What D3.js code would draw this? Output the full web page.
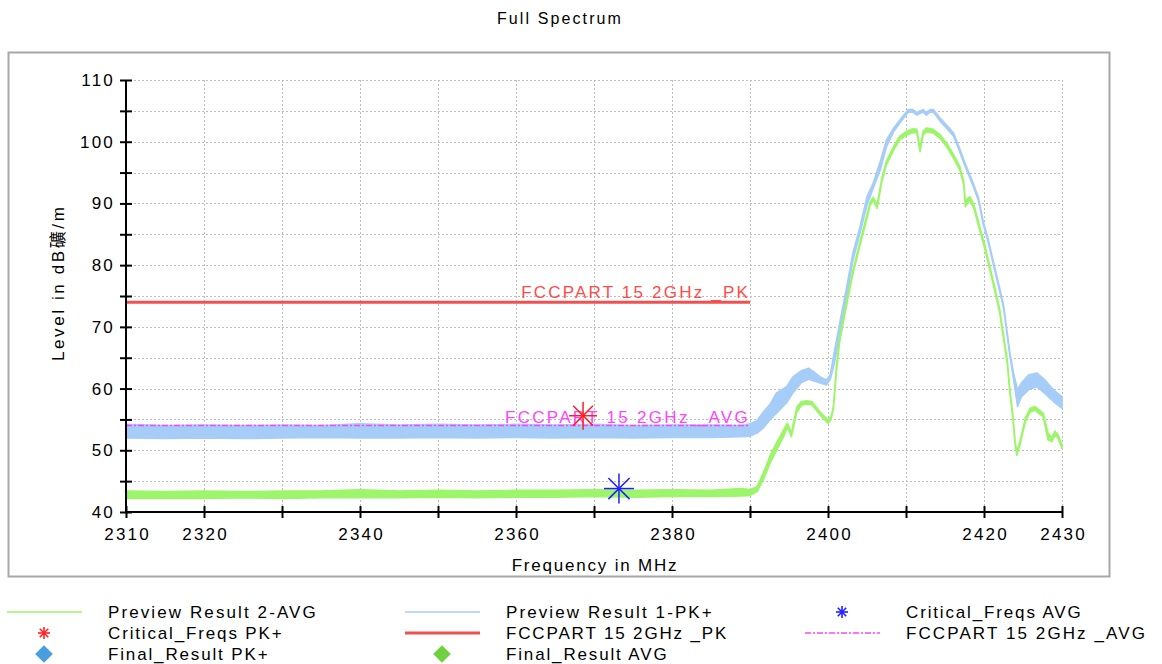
<!DOCTYPE html>
<html><head><meta charset="utf-8">
<script src="https://cdn.jsdelivr.net/npm/d3@7/dist/d3.min.js"></script>
<style>
html,body{margin:0;padding:0;background:#fff;}
svg text{font-family:"Liberation Sans",Arial,"Noto Sans CJK SC",sans-serif;}
</style></head>
<body>
<svg id="chart" width="1162" height="664"></svg>
<script>
// ---- data ----
const titleText = "Full Spectrum";
const xLabel = "Frequency in MHz";
const yLabel = "Level in dB礦/m";

// Preview Result 1-PK+ (trace envelope: low / high)
const pkFreq = [2310,2315,2320,2325,2330,2335,2340,2345,2350,2355,2360,2365,2370,2375,2380,2385,2389,2390,2390.9,2391.7,2392.6,2393.4,2394.7,2395.5,2396.6,2397.5,2398.3,2399.0,2399.8,2400.3,2400.7,2401.5,2402.4,2403.2,2404.1,2405.0,2405.8,2406.7,2407.5,2408.4,2409.2,2410.3,2410.9,2411.4,2411.8,2412.2,2412.6,2413.1,2413.5,2414.4,2415.2,2416.1,2416.7,2417.4,2418.0,2418.7,2419.3,2419.9,2420.5,2421.2,2421.8,2422.5,2422.9,2423.3,2423.8,2424.3,2424.8,2425.7,2426.8,2427.8,2428.9,2430.0];
const pkLo = [52.0,51.9,52.0,51.9,52.0,52.1,52.0,52.0,52.1,52.0,52.1,52.0,52.1,52.0,52.1,52.1,52.2,52.3,52.8,53.6,55.0,56.0,57.7,59.3,61.0,61.5,61.2,60.9,60.6,61.5,63.5,68.4,74.9,80.8,85.2,89.7,92.5,95.4,99.2,101.6,103.0,104.8,104.8,104.3,104.6,104.8,104.3,104.8,104.8,103.3,102.2,100.9,99.0,96.6,94.7,92.5,90.4,86.6,83.9,80.1,76.9,73.1,69.3,65.4,61.4,57.1,58.7,59.8,60.3,59.2,57.9,56.8];
const pkHi = [54.2,54.0,54.1,54.0,54.1,54.0,54.3,54.1,54.2,54.1,54.2,54.1,54.2,54.0,54.1,54.1,54.0,54.3,54.8,56.2,57.5,59.3,60.3,61.9,62.9,63.3,62.6,61.9,61.4,62.3,65.2,70.6,76.5,82.0,86.2,91.1,93.3,96.8,100.3,102.2,103.5,105.2,105.2,104.7,105.0,105.2,104.7,105.2,105.2,103.8,102.7,101.4,99.5,97.1,95.2,93.0,90.9,87.1,84.4,80.6,77.4,73.6,69.8,66.0,62.4,59.8,60.9,62.2,62.5,61.4,59.8,58.7];

// Preview Result 2-AVG (trace envelope: low / high)
const avgFreq = [2310,2315,2320,2325,2330,2335,2340,2345,2350,2355,2360,2365,2370,2375,2380,2385,2389,2390,2390.9,2391.7,2392.6,2393.4,2394.3,2394.8,2395.3,2396.0,2396.6,2397.3,2397.9,2399.0,2400.0,2400.4,2400.7,2401.1,2401.5,2402.4,2403.2,2404.1,2405.0,2405.4,2405.8,2406.3,2406.9,2407.5,2408.4,2409.2,2410.1,2410.9,2411.4,2411.8,2412.2,2412.6,2413.5,2414.4,2415.2,2416.1,2416.9,2417.4,2417.6,2418.2,2418.7,2419.5,2420.1,2420.8,2421.4,2422.0,2422.5,2423.0,2423.3,2423.7,2424.0,2424.2,2424.6,2425.3,2425.9,2426.5,2427.6,2428.2,2428.7,2429.1,2429.5,2430.0];
const avgLo = [42.2,42.2,42.2,42.3,42.2,42.3,42.3,42.3,42.4,42.3,42.4,42.4,42.5,42.4,42.5,42.5,42.6,42.7,43.3,45.2,48.0,50.0,52.2,53.8,52.2,56.2,57.3,57.5,57.4,55.7,54.4,55.0,56.7,63.0,67.6,73.6,78.6,83.2,87.6,89.7,90.5,89.2,93.5,96.3,98.6,100.3,101.1,101.5,101.4,98.4,101.1,101.6,101.4,100.5,99.2,97.3,95.4,93.0,89.5,90.5,89.2,85.4,82.7,78.9,75.7,72.4,68.1,63.8,59.5,55.1,50.8,49.2,50.8,54.6,56.2,56.5,55.4,51.7,51.4,52.5,51.9,50.3];
const avgHi = [43.4,43.3,43.4,43.3,43.4,43.4,43.6,43.4,43.5,43.4,43.5,43.5,43.6,43.5,43.6,43.5,43.8,43.6,44.1,46.3,49.2,51.2,53.3,54.4,52.8,57.0,57.9,58.0,57.9,56.2,54.9,55.5,57.2,64.0,68.2,74.2,79.2,83.8,88.2,90.2,91.0,89.8,94.1,96.9,99.2,100.9,101.7,102.1,102.0,99.0,101.7,102.2,102.0,101.1,99.8,97.9,96.0,93.6,90.5,91.1,89.8,86.0,83.3,79.5,76.3,73.0,68.7,64.4,60.1,55.7,51.4,49.8,51.4,55.2,56.8,57.1,56.0,52.8,52.0,53.1,52.5,50.9];

// Limit lines
const limitPKFreq = [2310, 2390];
const limitPKLevel = [74, 74];
const limitAVGFreq = [2310, 2390];
const limitAVGLevel = [54, 54];
const limitPKLabel = "FCCPART 15 2GHz _PK";
const limitAVGLabel = "FCCPART 15 2GHz _AVG";

// Critical frequencies
const critPK = [{f: 2368.6, v: 55.6}];
const critAVG = [{f: 2373.2, v: 43.8}];

// Axes
const xTicks = [2310,2320,2330,2340,2350,2360,2370,2380,2390,2400,2410,2420,2430];
const xTickLabels = [2310,2320,2340,2360,2380,2400,2420,2430];
const yTicks = [40,45,50,55,60,65,70,75,80,85,90,95,100,105,110];
const yTickLabels = [40,50,60,70,80,90,100,110];

// Legend
const legendItems = [
  {label: "Preview Result 2-AVG", type: "line", color: "#9cf56a", col: 0, row: 0},
  {label: "Preview Result 1-PK+", type: "line", color: "#a6cdf7", col: 1, row: 0},
  {label: "Critical_Freqs AVG", type: "star", color: "#1f1fff", col: 2, row: 0},
  {label: "Critical_Freqs PK+", type: "star", color: "#ff2020", col: 0, row: 1},
  {label: "FCCPART 15 2GHz _PK", type: "thick", color: "#f25050", col: 1, row: 1},
  {label: "FCCPART 15 2GHz _AVG", type: "dashdot", color: "#ff44ff", col: 2, row: 1},
  {label: "Final_Result PK+", type: "diamond", color: "#4a9ee0", col: 0, row: 2},
  {label: "Final_Result AVG", type: "diamond", color: "#6fd040", col: 1, row: 2}
];

// ---- drawing ----
const svg = d3.select("#chart");
const x = d3.scaleLinear().domain([2310, 2430]).range([126, 1062]);
const y = d3.scaleLinear().domain([40, 110]).range([512, 80]);

// outer frame
svg.append("rect").attr("x", 8.5).attr("y", 52.5).attr("width", 1101).attr("height", 524)
  .attr("fill", "none").attr("stroke", "#a8a8a8").attr("stroke-width", 2);

// title
svg.append("text").attr("x", 560).attr("y", 24).attr("text-anchor", "middle")
  .attr("font-size", 16).attr("letter-spacing", 2.1).text(titleText);

// grid
const grid = svg.append("g").attr("stroke", "#bcbcbc").attr("stroke-width", 1).attr("stroke-dasharray", "2,2");
grid.selectAll("line.h").data(yTicks.filter(d => d > 40)).join("line")
  .attr("x1", x(2310)).attr("x2", x(2430)).attr("y1", d => Math.round(y(d)) + 0.5).attr("y2", d => Math.round(y(d)) + 0.5);
grid.selectAll("line.v").data(xTicks.filter(d => d > 2310)).join("line")
  .attr("y1", y(110)).attr("y2", y(40)).attr("x1", d => Math.round(x(d)) + 0.5).attr("x2", d => Math.round(x(d)) + 0.5);

// traces
const areaGen = (fr, lo, hi) => d3.area()
  .x((d, i) => x(fr[i])).y0((d, i) => y(lo[i])).y1((d, i) => y(hi[i]))(fr);
svg.append("path").attr("d", areaGen(pkFreq, pkLo, pkHi))
  .attr("fill", "#a6cdf7").attr("stroke", "#a6cdf7").attr("stroke-width", 1.6).attr("stroke-linejoin", "round");
svg.append("path").attr("d", areaGen(avgFreq, avgLo, avgHi))
  .attr("fill", "#9cf56a").attr("stroke", "#9cf56a").attr("stroke-width", 1.6).attr("stroke-linejoin", "round");

// limit lines
const lineGen = (fr, lv) => d3.line().x((d, i) => x(fr[i])).y((d, i) => y(lv[i]))(fr);
svg.append("path").attr("d", lineGen(limitPKFreq, limitPKLevel))
  .attr("fill", "none").attr("stroke", "#f25050").attr("stroke-width", 3);
svg.append("path").attr("d", lineGen(limitAVGFreq, limitAVGLevel))
  .attr("fill", "none").attr("stroke", "#ff44ff").attr("stroke-width", 1.5).attr("stroke-dasharray", "6,2,2,2");
svg.append("text").attr("x", x(2390)).attr("y", y(74) - 4).attr("text-anchor", "end")
  .attr("font-size", 17).attr("letter-spacing", 2.2).attr("fill", "#ff4a4a").text(limitPKLabel);
svg.append("text").attr("x", x(2390)).attr("y", y(54) - 3).attr("text-anchor", "end")
  .attr("font-size", 17).attr("letter-spacing", 2.3).attr("fill", "#ff44ff").text(limitAVGLabel);

// star marker
function star(g, cx, cy, r, color, w) {
  const angles = [0, 45, 90, 135];
  angles.forEach(a => {
    const rad = a * Math.PI / 180;
    g.append("line")
      .attr("x1", cx - r * Math.cos(rad)).attr("y1", cy - r * Math.sin(rad))
      .attr("x2", cx + r * Math.cos(rad)).attr("y2", cy + r * Math.sin(rad))
      .attr("stroke", color).attr("stroke-width", w);
  });
}
const markG = svg.append("g");
critPK.forEach(d => star(markG, x(d.f), y(d.v), 14, "#ff2020", 1.5));
critAVG.forEach(d => star(markG, x(d.f), y(d.v), 15, "#1f1fff", 1.5));

// axes
const yAxis = d3.axisLeft(y).tickValues(yTicks).tickSize(6).tickPadding(5)
  .tickFormat(d => yTickLabels.includes(d) ? d : "");
const gy = svg.append("g").attr("transform", `translate(${x(2310)},0)`).call(yAxis);
gy.select(".domain").remove();
gy.selectAll(".tick line").attr("x1", 6).attr("x2", -6).attr("stroke", "#000").attr("stroke-width", 2);
gy.selectAll(".tick text").attr("font-size", 17).attr("letter-spacing", 2.2).attr("fill", "#000")
  .attr("font-family", "'Liberation Sans',Arial,sans-serif");

const xAxis = d3.axisBottom(x).tickValues(xTicks).tickSize(6).tickPadding(10)
  .tickFormat(d => xTickLabels.includes(d) ? d : "");
const gx = svg.append("g").attr("transform", `translate(0,${y(40)})`).call(xAxis);
gx.select(".domain").remove();
gx.selectAll(".tick line").attr("y1", -6).attr("y2", 6).attr("stroke", "#000").attr("stroke-width", 2);
gx.selectAll(".tick text").attr("font-size", 17).attr("letter-spacing", 2.2).attr("dx", 1.1).attr("fill", "#000")
  .attr("font-family", "'Liberation Sans',Arial,sans-serif");

svg.append("line").attr("x1", x(2310)).attr("x2", x(2310)).attr("y1", y(110)).attr("y2", y(40))
  .attr("stroke", "#000").attr("stroke-width", 2);
svg.append("line").attr("x1", x(2310)).attr("x2", x(2430)).attr("y1", y(40)).attr("y2", y(40))
  .attr("stroke", "#000").attr("stroke-width", 2);

// axis titles
svg.append("text").attr("x", 595).attr("y", 571).attr("text-anchor", "middle")
  .attr("font-size", 17).attr("letter-spacing", 1.8).text(xLabel);
svg.append("text").attr("transform", "translate(64,361) rotate(-90)").attr("text-anchor", "start")
  .attr("font-size", 17).attr("letter-spacing", 2.6).text(yLabel);

// legend
const colX = [7, 405, 805];
const rowY = [612, 633, 654];
const lg = svg.append("g");
legendItems.forEach(it => {
  const x0 = colX[it.col], yc = rowY[it.row], cx = x0 + 37;
  if (it.type === "line") {
    lg.append("line").attr("x1", x0).attr("x2", x0 + 75).attr("y1", yc).attr("y2", yc)
      .attr("stroke", it.color).attr("stroke-width", 1.5);
  } else if (it.type === "thick") {
    lg.append("line").attr("x1", x0).attr("x2", x0 + 75).attr("y1", yc).attr("y2", yc)
      .attr("stroke", it.color).attr("stroke-width", 3);
  } else if (it.type === "dashdot") {
    lg.append("line").attr("x1", x0).attr("x2", x0 + 75).attr("y1", yc).attr("y2", yc)
      .attr("stroke", it.color).attr("stroke-width", 1.5).attr("stroke-dasharray", "6,2,2,2");
  } else if (it.type === "star") {
    star(lg, cx, yc, 6, it.color, 1.6);
  } else if (it.type === "diamond") {
    lg.append("path").attr("d", d3.symbol(d3.symbolDiamond2, 200)())
      .attr("transform", `translate(${cx},${yc})`).attr("fill", it.color);
  }
  lg.append("text").attr("x", x0 + 101).attr("y", yc + 6).attr("font-size", 17)
    .attr("letter-spacing", it.label.length > 19 ? 2.1 : 1.85).text(it.label);
});
</script>
</body></html>
